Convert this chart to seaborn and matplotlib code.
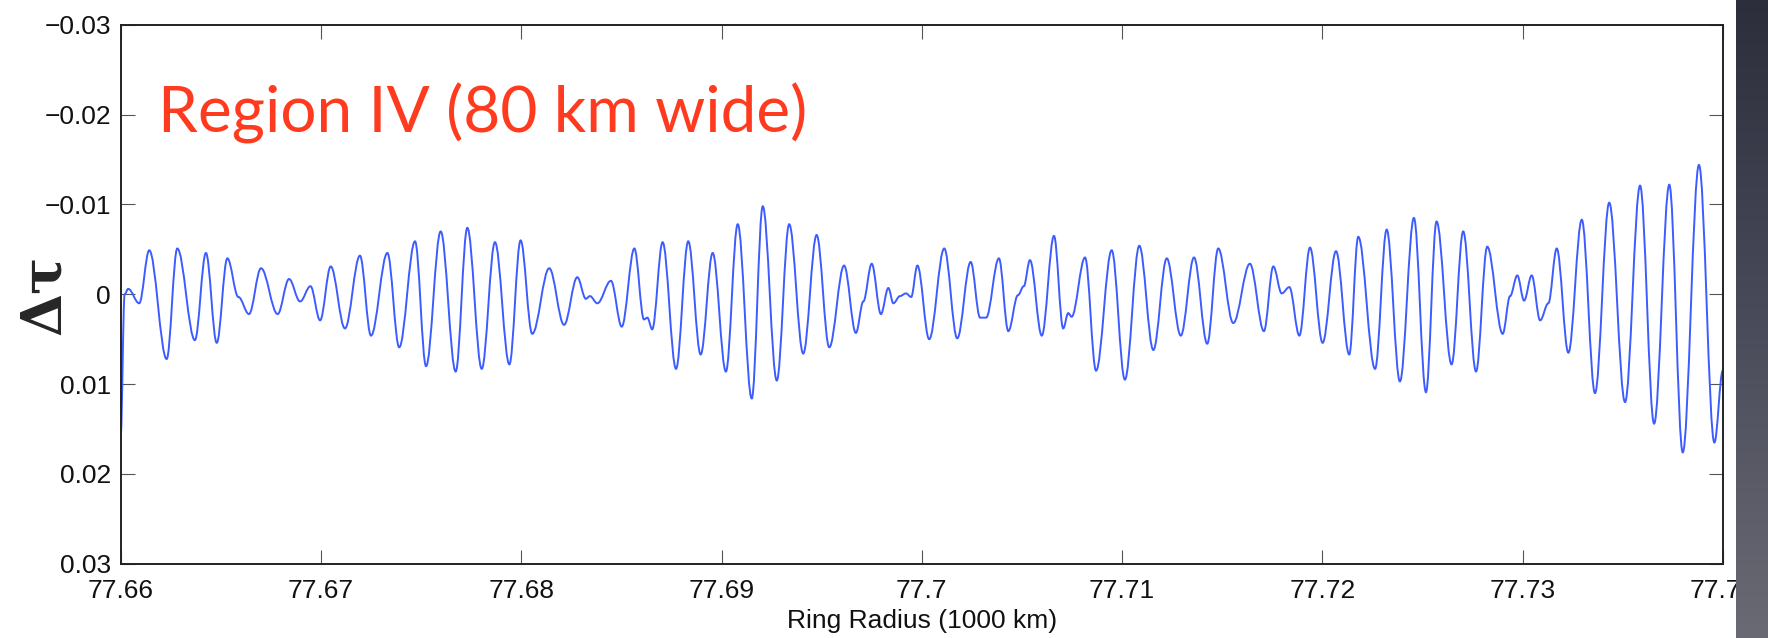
import numpy as np
import pandas as pd
import matplotlib
matplotlib.use("Agg")
import matplotlib.pyplot as plt
from matplotlib.path import Path
from matplotlib.patches import PathPatch
import seaborn as sns

# Radial position as offset from 77 660 km (km) and optical-depth deviation
offset_km = [0.00, 0.20, 0.38, 0.93, 1.43, 2.30, 2.83, 3.71, 4.26, 4.80, 5.33, 5.88, 6.41, 7.01,
             7.84, 8.41, 8.96, 9.48, 9.96, 10.49, 11.20, 11.95, 12.50, 13.32, 13.91, 14.70,
             15.25, 15.98, 16.73, 17.31, 18.03, 18.69, 19.41, 19.97, 20.55, 21.40, 22.14,
             22.80, 23.23, 23.43, 23.80, 24.48, 25.02, 25.65, 26.13, 26.30, 26.54, 27.06,
             27.73, 28.34, 28.96, 29.56, 30.22, 30.81, 31.51, 32.06, 32.76, 33.38, 34.08,
             34.75, 35.38, 36.12, 36.71, 37.08, 37.50, 37.96, 38.33, 38.58, 38.91, 39.21,
             39.47, 39.78, 40.37, 41.12, 41.77, 42.44, 42.91, 43.21, 43.85, 44.32, 44.80,
             45.09, 45.40, 45.99, 46.60, 47.06, 47.31, 47.48, 48.15, 48.70, 49.48, 50.14,
             50.86, 51.56, 52.23, 52.93, 53.59, 54.25, 54.80, 55.55, 56.38, 57.08, 57.55,
             57.97, 58.35, 58.85, 59.38, 60.01, 60.68, 61.34, 61.79, 62.63, 63.21, 63.87,
             64.57, 65.17, 65.70, 66.45, 67.03, 67.67, 68.23, 69.00, 69.37, 69.73, 70.07,
             70.45, 70.87, 71.28, 71.70, 72.28, 72.95, 73.61, 74.32, 75.11, 75.86, 76.56,
             77.32, 77.99, 78.80, 79.57, 79.99]
delta_tau = [0.0160, 0.0000, -0.0006, 0.0010, -0.0049, 0.0072, -0.0051, 0.0051, -0.0046, 0.0054,
             -0.0040, 0.0003, 0.0022, -0.0029, 0.0022, -0.0017, 0.0008, -0.0009, 0.0029,
             -0.0031, 0.0038, -0.0043, 0.0046, -0.0046, 0.0059, -0.0059, 0.0080, -0.0070,
             0.0086, -0.0074, 0.0083, -0.0058, 0.0078, -0.0060, 0.0044, -0.0029, 0.0034,
             -0.0019, 0.0005, 0.0002, 0.0010, -0.0015, 0.0036, -0.0051, 0.0028, 0.0026,
             0.0039, -0.0058, 0.0083, -0.0059, 0.0067, -0.0046, 0.0086, -0.0078, 0.0116,
             -0.0098, 0.0096, -0.0078, 0.0066, -0.0066, 0.0059, -0.0032, 0.0043, 0.0008,
             -0.0034, 0.0022, -0.0007, 0.0010, 0.0002, -0.0001, 0.0003, -0.0032, 0.0050,
             -0.0051, 0.0049, -0.0036, 0.0026, 0.0026, -0.0040, 0.0041, 0.0001, -0.0009,
             -0.0038, 0.0046, -0.0065, 0.0038, 0.0021, 0.0025, -0.0041, 0.0085, -0.0049,
             0.0095, -0.0054, 0.0062, -0.0040, 0.0046, -0.0041, 0.0055, -0.0051, 0.0032,
             -0.0034, 0.0041, -0.0031, -0.0001, -0.0008, 0.0046, -0.0052, 0.0054, -0.0048,
             0.0067, -0.0064, 0.0083, -0.0072, 0.0097, -0.0085, 0.0109, -0.0081, 0.0078,
             -0.0070, 0.0086, -0.0053, 0.0044, 0.0002, -0.0021, 0.0007, -0.0021, 0.0029,
             0.0010, -0.0051, 0.0065, -0.0083, 0.0110, -0.0102, 0.0120, -0.0121, 0.0144,
             -0.0122, 0.0176, -0.0144, 0.0165, 0.0085]

x_ticks = [77.66, 77.67, 77.68, 77.69, 77.70, 77.71, 77.72, 77.73, 77.74]
x_ticklabels = ["77.66", "77.67", "77.68", "77.69", "77.7", "77.71", "77.72", "77.73", "77.74"]
y_ticks = [-0.03, -0.02, -0.01, 0, 0.01, 0.02, 0.03]
y_ticklabels = ["\u22120.03", "\u22120.02", "\u22120.01", "0", "0.01", "0.02", "0.03"]
title_text = "Region IV (80 km wide)"
x_label = "Ring Radius (1000 km)"
y_label = "\u0394\u03c4"

df = pd.DataFrame({"radius": 77.66 + np.array(offset_km) / 1000.0, "dtau": delta_tau})

sns.set_style("white")
plt.rcParams["font.family"] = ["Liberation Sans", "DejaVu Sans"]

fig = plt.figure(figsize=(17.68, 6.38), dpi=100)
fig.patch.set_facecolor("white")
ax = fig.add_axes([120.6 / 1768, 1 - 563.8 / 638, (1723 - 120.6) / 1768, (563.8 - 24.8) / 638])

sns.lineplot(data=df, x="radius", y="dtau", sort=False, estimator=None,
             color="#3d5cff", linewidth=1.4, ax=ax)

# render the seaborn line as a smooth curve through its own data points
line = ax.lines[0]
xd = np.asarray(line.get_xdata(), dtype=float)
yd = np.asarray(line.get_ydata(), dtype=float)
k = 0.36
verts = [(xd[0], yd[0])]
codes = [Path.MOVETO]
for i in range(len(xd) - 1):
    dx = xd[i + 1] - xd[i]
    verts += [(xd[i] + k * dx, yd[i]), (xd[i + 1] - k * dx, yd[i + 1]), (xd[i + 1], yd[i + 1])]
    codes += [Path.CURVE4] * 3
smooth = PathPatch(Path(verts, codes), fill=False, edgecolor=line.get_color(),
                   linewidth=line.get_linewidth(), transform=ax.transData, zorder=line.get_zorder())
ax.add_patch(smooth)
line.remove()

ax.set_xlim(77.66, 77.74)
ax.set_ylim(0.03, -0.03)
ax.set_xticks(x_ticks)
ax.set_xticklabels(x_ticklabels)
ax.set_yticks(y_ticks)
ax.set_yticklabels(y_ticklabels)
ax.tick_params(direction="in", length=10, width=0.8, color="#555555", labelcolor="#111111",
               top=True, right=True, bottom=True, left=True, labelsize=19)
ax.tick_params(axis="y", pad=7)
ax.tick_params(axis="x", pad=11)
for s in ax.spines.values():
    s.set_visible(True)
    s.set_color("#222222")
    s.set_linewidth(1.4)
ax.set_xlabel(x_label, fontsize=19, labelpad=4, color="#111111")
ax.set_ylabel("")

fig.text(45 / 1768, 1 - 295 / 638, y_label, rotation=90, fontsize=40, fontweight="bold",
         ha="center", va="center", family=["DejaVu Serif"])
fig.text(158 / 1768, 1 - 133 / 638, title_text, color="#ff3b1f", fontsize=46,
         ha="left", va="baseline", family=["Lato", "DejaVu Sans"])

# dark slide background strip on the right edge
strip = fig.add_axes([1736 / 1768, 0, 32 / 1768, 1])
grad = np.linspace(0, 1, 256).reshape(-1, 1)
strip.imshow(grad, aspect="auto", cmap=matplotlib.colors.LinearSegmentedColormap.from_list(
    "bg", ["#2c2e3c", "#4a4b5a", "#6a6a74"]), origin="upper")
strip.set_axis_off()

fig.savefig("out.png", dpi=100)
